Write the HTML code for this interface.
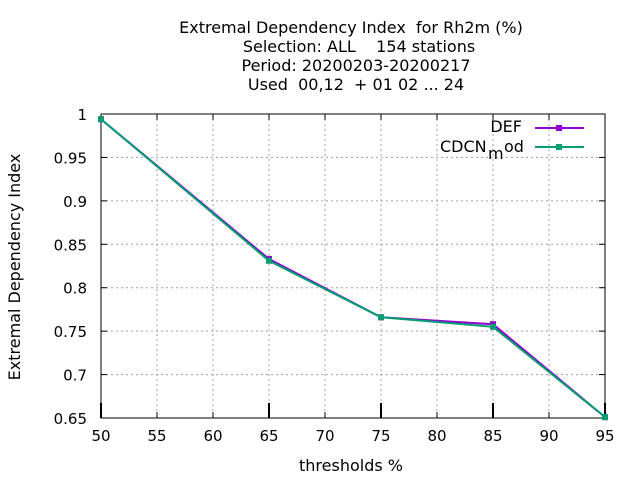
<!DOCTYPE html>
<html><head><meta charset="utf-8"><style>
body{margin:0;background:#fff;}
svg{font-family:"DejaVu Sans","Liberation Sans",sans-serif;font-size:15px;}
</style></head><body>
<svg width="640" height="480" xmlns="http://www.w3.org/2000/svg">
<g text-anchor="middle" font-size="16">
<text x="351" y="33">Extremal Dependency Index&#160; for Rh2m (%)</text>
<text x="359" y="52">Selection: ALL&#160;&#160;&#160; 154 stations</text>
<text x="356" y="71">Period: 20200203-20200217</text>
<text x="356" y="90">Used&#160; 00,12&#160; + 01 02 ... 24</text>
</g>
<g id="grid"></g>
<g id="axes"></g>
<g id="series"></g>
<text x="351" y="471" text-anchor="middle" font-size="16">thresholds %</text>
<text transform="translate(20,267) rotate(-90)" text-anchor="middle" font-size="16">Extremal Dependency Index</text>
<g font-size="16">
<text x="522" y="132" text-anchor="end">DEF</text>
<line x1="535" y1="128" x2="584" y2="128" stroke="#9400d3" stroke-width="2"/>
<rect x="556" y="125" width="6" height="6" fill="#9400d3"/>
<text x="440" y="152">CDCN</text><text x="488" y="159">m</text><text x="504" y="152">od</text>
<line x1="535" y1="147" x2="584" y2="147" stroke="#009e73" stroke-width="2"/>
<rect x="556" y="144" width="6" height="6" fill="#009e73"/>
</g>
</svg>
<script>
const thresholds=[50,65,75,85,95];
const defValues=[0.994,0.833,0.766,0.758,0.651];
const cdcnValues=[0.994,0.831,0.766,0.755,0.651];
const xTicks=[50,55,60,65,70,75,80,85,90,95];
const yTicks=[0.65,0.7,0.75,0.8,0.85,0.9,0.95,1];
const L=101,R=605,T=114,B=418;
const xs=v=>L+(v-50)/45*(R-L);
const ys=v=>B-(v-0.65)/0.35*(B-T);
const NS="http://www.w3.org/2000/svg";
function mk(p,tag,a){const e=document.createElementNS(NS,tag);for(const k in a)e.setAttribute(k,a[k]);p.appendChild(e);return e;}
const grid=document.getElementById('grid'),axes=document.getElementById('axes'),ser=document.getElementById('series');
xTicks.forEach(v=>{
 const x=xs(v);
 if(v>50&&v<95){const g=mk(grid,'line',{x1:x,x2:x,y1:T,y2:B,stroke:'#a0a0a0','stroke-dasharray':'2,3'});
 
 }
 const t=mk(axes,'text',{x:x,y:B+23,'text-anchor':'middle'});t.textContent=v;
 
 
 mk(axes,'line',{x1:x,x2:x,y1:B,y2:B-6,stroke:'#000'});mk(axes,'line',{x1:x,x2:x,y1:T,y2:T+6,stroke:'#000'});
});
thresholds.forEach(v=>{const x=xs(v);mk(axes,'line',{x1:x,x2:x,y1:B,y2:B-15,stroke:'#000','stroke-width':2});});
yTicks.forEach(v=>{
 const y=ys(v);
 if(v>0.65&&v<1){const g=mk(grid,'line',{x1:L,x2:R,y1:y,y2:y,stroke:'#a0a0a0','stroke-dasharray':'2,3'});
 
 }
 const t=mk(axes,'text',{x:L-14,y:y+6,'text-anchor':'end'});t.textContent=String(v);
 
 
 mk(axes,'line',{x1:L,x2:L+6,y1:y,y2:y,stroke:'#000'});mk(axes,'line',{x1:R,x2:R-6,y1:y,y2:y,stroke:'#000'});
});
mk(axes,'rect',{x:L,y:T,width:R-L,height:B-T,fill:'none',stroke:'#000'});
function series(vals,col,name){
 const pl=mk(ser,'polyline',{points:vals.map((v,i)=>xs(thresholds[i])+','+ys(v)).join(' '),fill:'none',stroke:col,'stroke-width':2});
 
 
 vals.forEach((v,i)=>{const r=mk(ser,'rect',{x:xs(thresholds[i])-3,y:ys(v)-3,width:6,height:6,fill:col});
 
 });
}
series(defValues,'#9400d3','def');
series(cdcnValues,'#009e73','cdcn-mod');
</script>
</body></html>
